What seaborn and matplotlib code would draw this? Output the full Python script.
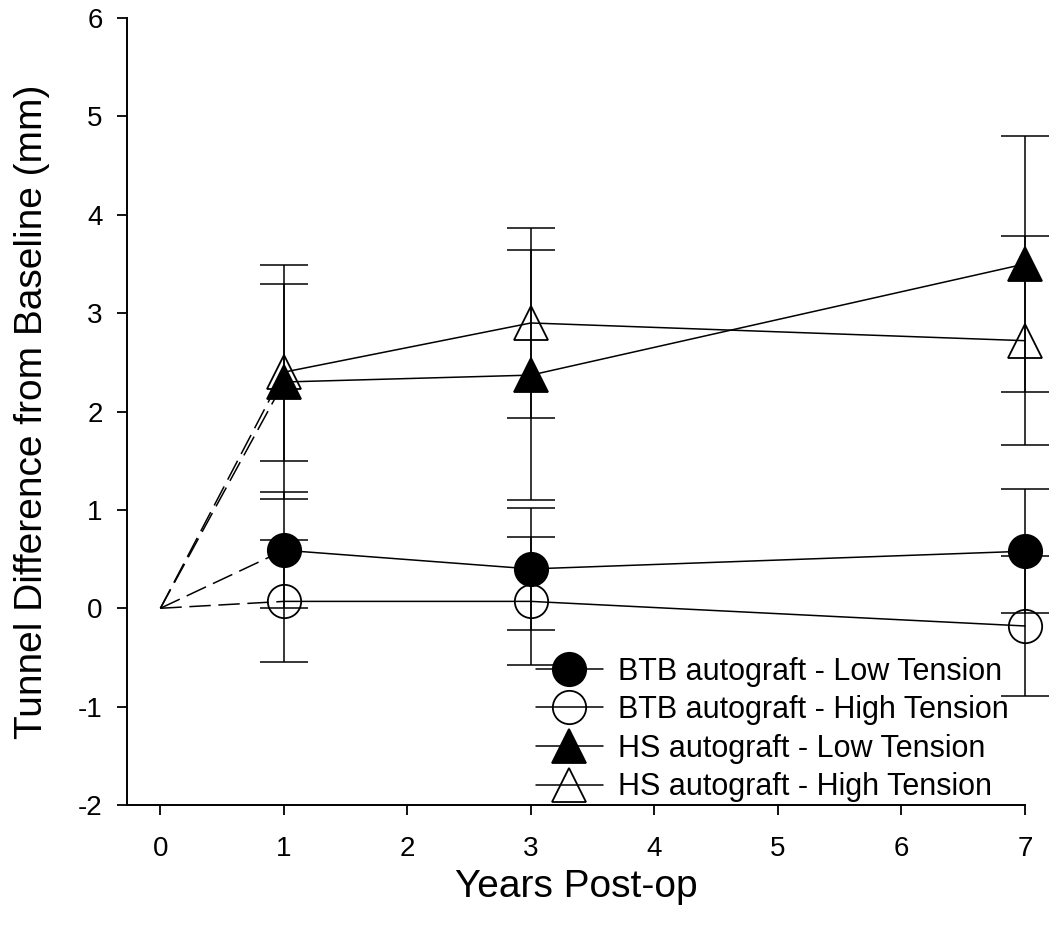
import matplotlib
matplotlib.use("Agg")
import matplotlib.pyplot as plt
import seaborn as sns
import pandas as pd

# Data
years = [1, 3, 7]
baseline_year = 0
baseline_value = 0.0

labels = ["BTB autograft - Low Tension", "BTB autograft - High Tension",
          "HS autograft - Low Tension", "HS autograft - High Tension"]
btb_low = [0.59, 0.40, 0.58]
btb_low_sd = [0.59, 0.62, 0.63]
btb_high = [0.07, 0.07, -0.18]
btb_high_sd = [0.62, 0.65, 0.71]
hs_low = [2.30, 2.37, 3.50]
hs_low_sd = [1.19, 1.27, 1.30]
hs_high = [2.40, 2.90, 2.72]
hs_high_sd = [0.90, 0.97, 1.06]

x_ticks = [0, 1, 2, 3, 4, 5, 6, 7]
y_ticks = [-2, -1, 0, 1, 2, 3, 4, 5, 6]

series = [
    (labels[0], btb_low, btb_low_sd, "o", "black"),
    (labels[1], btb_high, btb_high_sd, "o", "none"),
    (labels[2], hs_low, hs_low_sd, "^", "black"),
    (labels[3], hs_high, hs_high_sd, "^", "none"),
]

sns.set_style("ticks", {"axes.edgecolor": "black", "text.color": "black",
                        "xtick.color": "black", "ytick.color": "black",
                        "axes.labelcolor": "black"})
plt.rcParams["font.family"] = ["Liberation Sans", "DejaVu Sans"]
plt.rcParams["axes.unicode_minus"] = False

fig = plt.figure(figsize=(10.5, 9.42), dpi=100)
ax = fig.add_axes([0.121, 0.1454, 0.8552, 0.8355])

handles = []
for name, vals, sd, mk, fc in series:
    # dashed line from baseline to first follow-up
    ax.plot([baseline_year, years[0]], [baseline_value, vals[0]], color="black",
            lw=1.1, linestyle=(0, (14, 5)), clip_on=False, zorder=2)
    ax.errorbar(years, vals, yerr=sd, fmt="none", ecolor="black", elinewidth=1.1,
                capsize=17, capthick=1.1, clip_on=False, zorder=3)
    df = pd.DataFrame({"year": years, "value": vals})
    sns.lineplot(data=df, x="year", y="value", ax=ax, color="black", lw=1.1,
                 marker=mk, markersize=24, markerfacecolor=fc,
                 markeredgecolor="black", markeredgewidth=1.3,
                 errorbar=None, clip_on=False, zorder=4)
    handles.append(ax.lines[-1])

ax.set_xlim(-0.27, 7)
ax.set_ylim(-2, 6)
ax.set_xticks(x_ticks)
ax.set_yticks(y_ticks)
ax.tick_params(labelsize=20, width=1.3, length=7.5, direction="out", pad=10)
ax.tick_params(axis="x", pad=15)
for s in ["left", "bottom"]:
    ax.spines[s].set_linewidth(1.4)
sns.despine(ax=ax)

ax.set_xlabel("Years Post-op", fontsize=28, labelpad=5)
ax.set_ylabel("Tunnel Difference from Baseline (mm)", fontsize=28, labelpad=20)

fig.legend(handles, labels, loc="upper left", bbox_to_anchor=(0.51, 0.303),
           frameon=False, fontsize=22, labelspacing=0.28, handlelength=2.2,
           handletextpad=0.5, borderpad=0, borderaxespad=0)

fig.savefig("out.png", dpi=100)
